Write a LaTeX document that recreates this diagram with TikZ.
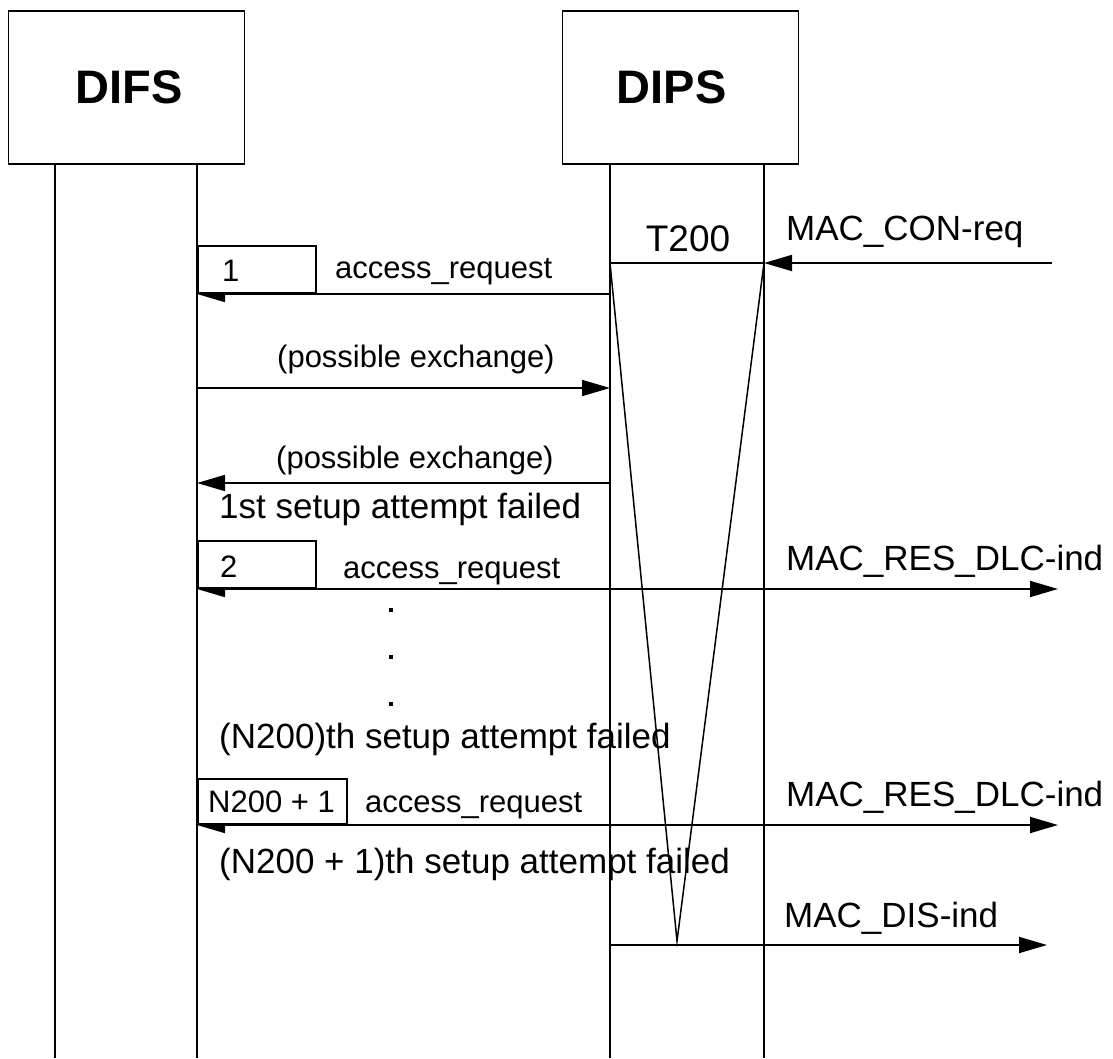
\documentclass[tikz,border=0pt]{standalone}
\usepackage{fontspec}
\setmainfont{Liberation Sans}
\usetikzlibrary{arrows.meta}
\begin{document}
\begin{tikzpicture}[x=1pt,y=-1pt,
  ln/.style={line width=1.8pt},
  thin/.style={line width=1.5pt},
  msg/.style={line width=1.8pt,-{Triangle[length=28pt,width=16pt]}},
  ent/.style={draw,line width=1.8pt,minimum width=236pt,minimum height=153pt,inner sep=0,
    font=\bfseries\fontsize{47}{50}\selectfont},
  numbox/.style={draw,fill=white,line width=1.8pt,inner sep=0,anchor=south west},
  small/.style={inner sep=0,anchor=base west,font=\fontsize{31}{36}\selectfont},
  mid/.style={inner sep=0,anchor=base west,font=\fontsize{35}{40}\selectfont},
]
\useasboundingbox (0,0) rectangle (1113,1058);
% entities
\node[ent] (difs) at (126.5,87.5) {\hspace*{6pt}DIFS};
\node[ent] (dips) at (680.5,87.5) {DIPS\hspace*{18pt}};
% lifelines
\coordinate (fa) at (55,164);  \coordinate (fab) at (55,1058);
\coordinate (fb) at (197,164); \coordinate (fbb) at (197,1058);
\coordinate (pa) at (610,164); \coordinate (pab) at (610,1058);
\coordinate (pb) at (764,164); \coordinate (pbb) at (764,1058);
\draw[ln] (fa) -- (fab);
\draw[ln] (fb) -- (fbb);
\draw[ln] (pa) -- (pab);
\draw[ln] (pb) -- (pbb);
% timer T200
\coordinate (ta) at (610,263);
\coordinate (tb) at (764,263);
\coordinate (tv) at (677,941);
\draw[ln] (ta) -- (tb);
\draw[thin] (ta) -- (tv) -- (tb);
\node[inner sep=0,anchor=base,font=\fontsize{37}{40}\selectfont] (tlbl) at (688,251) {T200};
% MAC_CON-req
\coordinate (ext1) at (1052,263);
\draw[msg] (ext1) -- (tb);
\node[mid] (mcon) at (786,240) {MAC\_CON-req};
% attempt 1
\coordinate (m1p) at (610,294); \coordinate (m1f) at (197,294);
\draw[msg] (m1p) -- (m1f);
\node[numbox,minimum width=118pt,minimum height=47pt] (b1) at (m1f) {};
\node[small] (n1) at (222,281) {1};
\node[small] (a1) at (335,278) {access\_request};
% possible exchanges
\coordinate (x1f) at (197,388); \coordinate (x1p) at (610,388);
\draw[msg] (x1f) -- (x1p);
\node[small] (x1l) at (277,367) {(possible exchange)};
\coordinate (x2p) at (610,483); \coordinate (x2f) at (197,483);
\draw[msg] (x2p) -- (x2f);
\node[small] (x2l) at (276,468) {(possible exchange)};
\node[mid] (f1) at (219,518) {1st setup attempt failed};
% attempt 2
\coordinate (m2p) at (610,589); \coordinate (m2f) at (197,589);
\coordinate (ext2) at (1058,589);
\draw[msg] (m2p) -- (m2f);
\draw[msg] (m2p) -- (ext2);
\node[numbox,minimum width=118pt,minimum height=47pt] (b2) at (m2f) {};
\node[small] (n2) at (220,577) {2};
\node[small] (a2) at (343,578) {access\_request};
\node[mid] (r1) at (786,570) {MAC\_RES\_DLC-ind};
% dots
\fill (389,608) rectangle +(4,4);
\fill (389,655) rectangle +(4,4);
\fill (389,702) rectangle +(4,4);
\node[mid] (fn) at (219,748) {(N200)th setup attempt failed};
% attempt N200+1
\coordinate (m3p) at (610,825); \coordinate (m3f) at (197,825);
\coordinate (ext3) at (1058,825);
\draw[msg] (m3p) -- (m3f);
\draw[msg] (m3p) -- (ext3);
\node[numbox,minimum width=149pt,minimum height=45pt] (b3) at (m3f) {};
\node[small] (n3) at (208,812) {N200 + 1};
\node[small] (a3) at (365,812) {access\_request};
\node[mid] (r2) at (786,806) {MAC\_RES\_DLC-ind};
\node[mid] (fn1) at (219,873) {(N200 + 1)th setup attempt failed};
% MAC_DIS-ind
\coordinate (dp) at (610,945); \coordinate (ext4) at (1047,945);
\draw[msg] (dp) -- (ext4);
\node[mid] (dis) at (784,927) {MAC\_DIS-ind};
\end{tikzpicture}
\end{document}
